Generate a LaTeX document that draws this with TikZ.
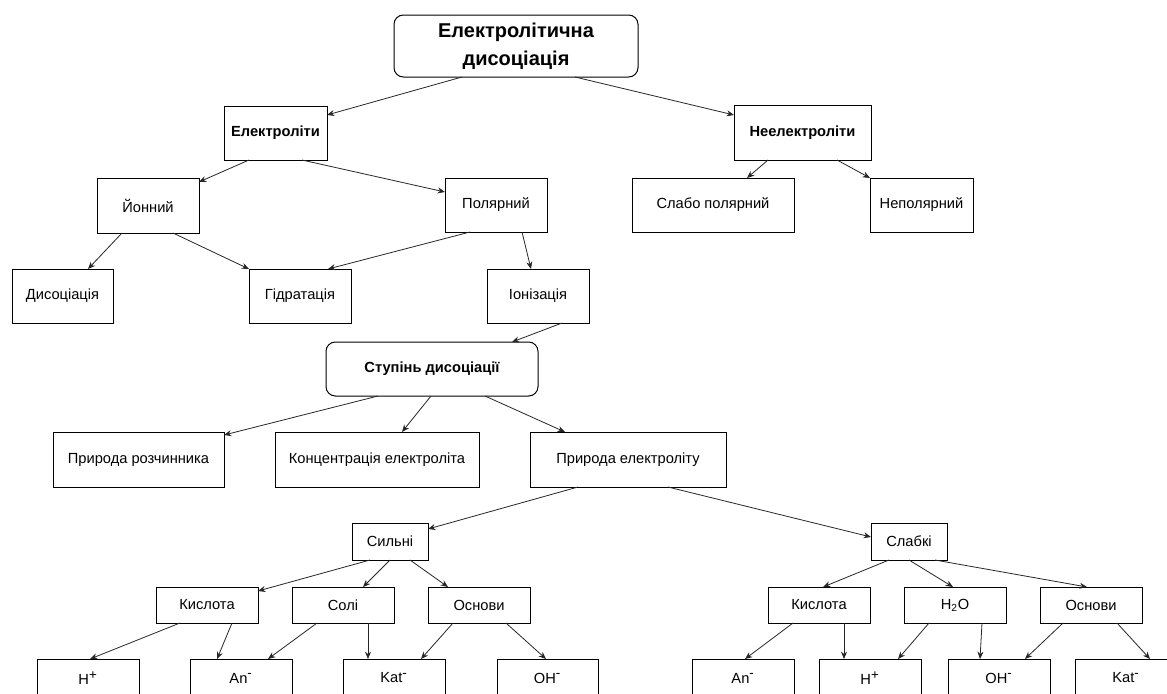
\documentclass[tikz,border=0pt]{standalone}
\usepackage{fontspec}
\setmainfont{Liberation Sans}
\usetikzlibrary{calc,arrows.meta}
\newcommand{\chg}[1]{\textsuperscript{\fontsize{10}{10}\selectfont #1}}

\begin{document}
\begin{tikzpicture}[x=0.75pt,y=-0.75pt,
        box/.style 2 args={draw,line width=0.75pt,minimum width=#1*0.75pt,minimum height=#2*0.75pt,
            inner sep=1pt,outer sep=0pt,font=\fontsize{11}{13}\selectfont},
        rbox/.style 2 args={box={#1}{#2},rounded corners=7pt},
        bold/.style={font=\fontsize{11}{13}\selectfont\bfseries},
        arr/.style={-{Stealth[length=5.5pt,width=4.5pt]},line width=0.6pt,black!85}]
        \useasboundingbox (0,0) rectangle (1167,693);
        \clip (0,0) rectangle (1167,693);

        % top levels
        \node[rbox={244}{62},font=\fontsize{15}{21}\selectfont\bfseries,align=center] (top) at (516,46) {Електролітична\\дисоціація};
        \node[box={103}{54},bold] (el) at (275.5,133) {Електроліти};
        \node[box={137}{55},bold] (nel) at (802.5,132.5) {Неелектроліти};
        \node[box={102}{55}] (ion) at (148,205.5) {Йонний};
        \node[box={102}{54}] (pol) at (496,205) {Полярний};
        \node[box={162}{54}] (slp) at (713,205) {Слабо полярний};
        \node[box={103}{54}] (nep) at (921.5,205) {Неполярний};
        \node[box={101}{54}] (dis) at (62.5,296) {Дисоціація};
        \node[box={102}{54}] (gid) at (300,296) {Гідратація};
        \node[box={102}{54}] (ioniz) at (538,296) {Іонізація};

        % degree of dissociation
        \node[rbox={212}{54},bold] (stup) at (432,369) {Ступінь дисоціації};
        \node[box={171}{55}] (prr) at (138.5,459.5) {Природа розчинника};
        \node[box={204}{55}] (kon) at (377,459.5) {Концентрація електроліта};
        \node[box={196}{55}] (pre) at (628,459.5) {Природа електроліту};
        \node[box={76}{37}] (sil) at (390,541.5) {Сильні};
        \node[box={76}{37}] (slb) at (909,541.5) {Слабкі};

        \node[box={102}{36}] (sk) at (207,605) {Кислота};
        \node[box={102}{36}] (ss) at (343,605) {Солі};
        \node[box={102}{36}] (so) at (479,605) {Основи};
        \node[box={102}{36}] (wk) at (819,605) {Кислота};
        \node[box={102}{36}] (wh) at (955,605) {H\textsubscript{2}O};
        \node[box={102}{36}] (wo) at (1091,605) {Основи};

        % ions
        \node[box={102}{38}] (sH) at (88,678) {H\chg{+}};
        \node[box={102}{38}] (sAn) at (241,678) {An\chg{-}};
        \node[box={102}{38}] (sKat) at (394,678) {Kat\chg{-}};
        \node[box={101}{38}] (sOH) at (547.5,678) {OH\chg{-}};
        \node[box={102}{38}] (wAn) at (743,678) {An\chg{-}};
        \node[box={102}{38}] (wH) at (870,678) {H\chg{+}};
        \node[box={102}{38}] (wOH) at (999,678) {OH\chg{-}};
        \node[box={102}{38}] (wKat) at (1126,678) {Kat\chg{-}};

        % connectors: from / start offset / to / end offset
        \foreach \a/\sx/\b/\ex/\ey in {top/68/el/103/9, top/181/nel/0/10,
            el/25/ion/102/4, el/78/pol/0/14, nel/34/slp/115/0, nel/103/nep/0/0,
            ion/25/dis/76/0, ion/76/gid/0/0, pol/25/gid/79/0, pol/77/ioniz/44/0,
            ioniz/75/stup/186/0, stup/52/prr/171/3, stup/105/kon/127/0, stup/159/pre/35/0,
            pre/48/sil/76/6, pre/138/slb/0/14,
            sil/18/sk/102/4, sil/38/ss/71/0, sil/58/so/20/0,
            sk/24/sH/53/0, sk/76/sAn/27/0, ss/25/sAn/78/0, ss/76/sKat/25/0,
            so/25/sKat/78/0, so/78/sOH/49/0,
            slb/18/wk/55/0, slb/38/wh/49/0, slb/64/wo/47/0,
            wk/25/wAn/53/0, wk/76/wH/25/0, wh/25/wH/79/0, wh/78/wOH/32/0,
            wo/23/wOH/77/0, wo/77/wKat/75/0}
            \draw[arr] ($(\a.south west)+(\sx,0)$) -- ($(\b.north west)+(\ex,\ey)$);
    \end{tikzpicture}
\end{document}
